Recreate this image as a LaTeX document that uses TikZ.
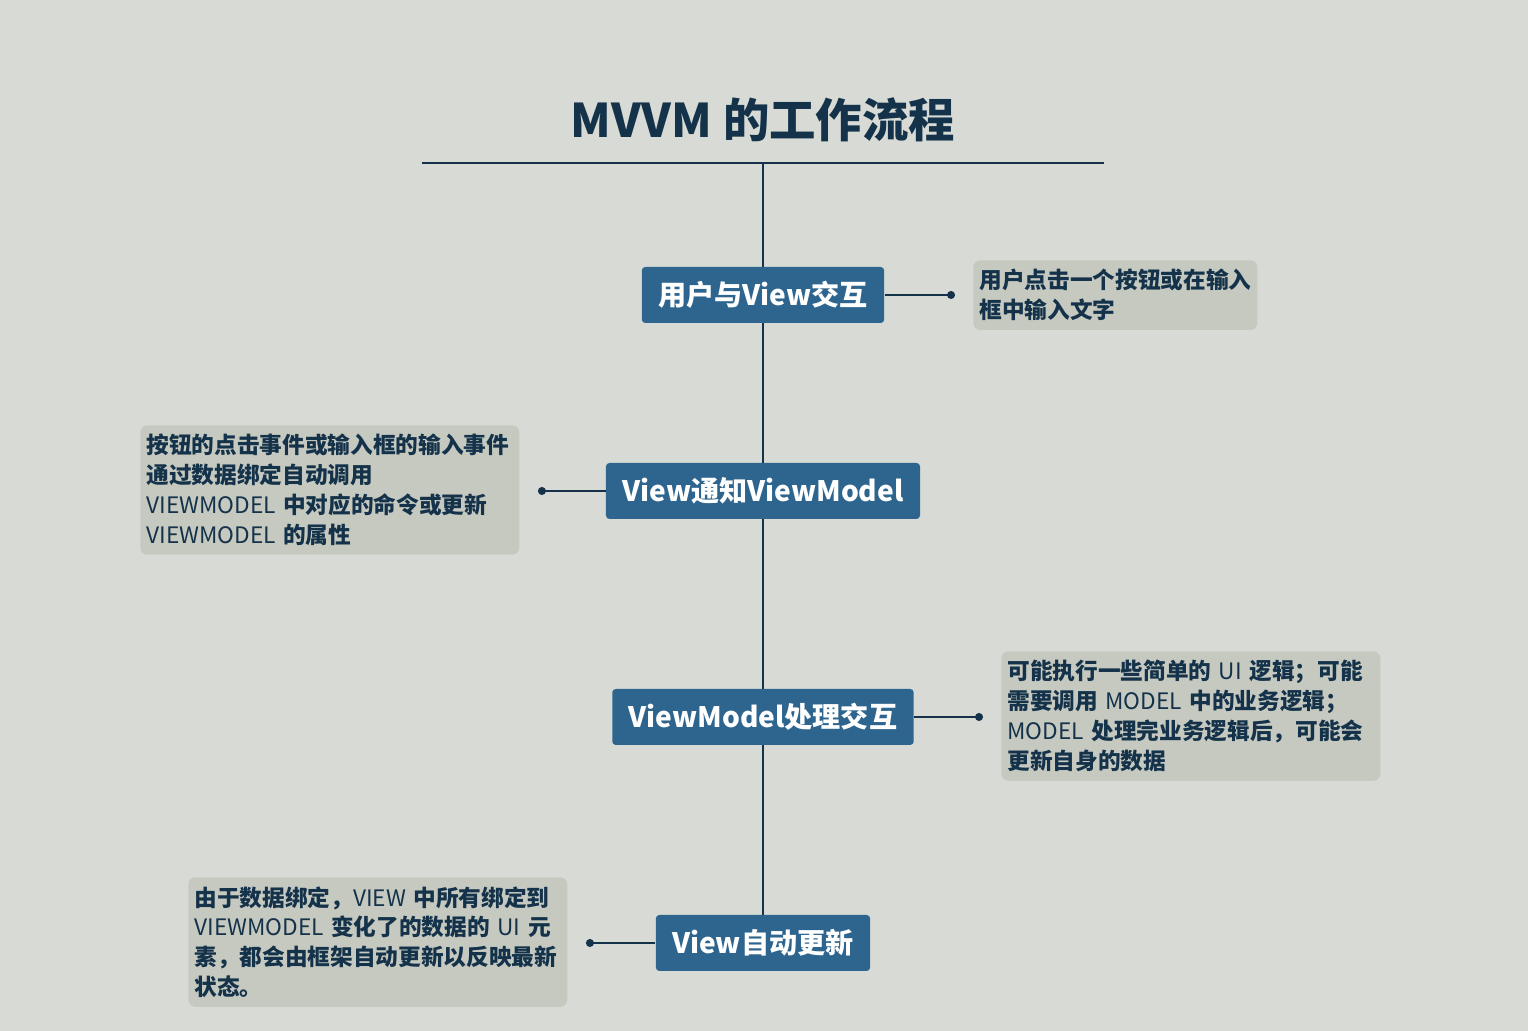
\documentclass[tikz,border=0pt]{standalone}
\usepackage{fontspec}
\setmainfont{Noto Sans CJK SC}
\usetikzlibrary{arrows.meta}
\definecolor{paper}{HTML}{D8DBD5}
\definecolor{ink}{HTML}{14324A}
\definecolor{stagefill}{HTML}{2E658F}
\definecolor{notefill}{HTML}{C6C9C0}
\newcommand{\lat}[1]{{\mdseries #1}}

\begin{document}
\begin{tikzpicture}[
  stage/.style={rectangle, rounded corners=2pt, fill=stagefill, text=white,
                font=\fontsize{16}{20}\selectfont\bfseries,
                minimum height=1.12cm, inner xsep=0.33cm, inner ysep=0pt},
  note/.style={rectangle, rounded corners=4pt, fill=notefill, text=ink,
               font=\fontsize{12.9}{17}\selectfont\bfseries, align=left,
               inner xsep=0.12cm, inner ysep=0.18cm, anchor=north west},
  wire/.style={line width=1.1pt, draw=ink},
  leader/.style={wire, -{Circle[length=4.5pt]}},
  title/.style={font=\fontsize{26.4}{30}\selectfont\bfseries, text=ink},
]

\fill[paper] (-15.26,0) rectangle (15.30,20.62);

\node[title] (head) at (0, 18.22) {MVVM 的工作流程};
\coordinate (rl) at (-6.82, 17.36);
\coordinate (rr) at (6.82, 17.36);
\coordinate (top) at (0, 17.36);
\draw[wire] (rl) -- (rr);

\node[stage] (s1) at (0, 14.72) {用户与View交互};
\node[stage] (s2) at (0, 10.80) {View通知ViewModel};
\node[stage] (s3) at (0, 6.28) {ViewModel处理交互};
\node[stage] (s4) at (0, 1.76) {View自动更新};

\draw[wire] (top) -- (s1) -- (s2) -- (s3) -- (s4);

\node[note, text width=5.44cm] (n1) at (4.20, 15.42) {
  用户点击一个按钮或在输入\\
  框中输入文字};
\node[note, text width=7.34cm] (n2) at (-12.46, 12.12) {
  按钮的点击事件或输入框的输入事件\\
  通过数据绑定自动调用\\
  \lat{VIEWMODEL} 中对应的命令或更新\\
  \lat{VIEWMODEL} 的属性};
\node[note, text width=7.34cm] (n3) at (4.76, 7.60) {
  可能执行一些简单的 \lat{UI} 逻辑；可能\\
  需要调用 \lat{MODEL} 中的业务逻辑；\\
  \lat{MODEL} 处理完业务逻辑后，可能会\\
  更新自身的数据};
\node[note, text width=7.34cm] (n4) at (-11.50, 3.08) {
  由于数据绑定，\lat{VIEW} 中所有绑定到\\
  \lat{VIEWMODEL} 变化了的数据的 \lat{UI} 元\\
  素，都会由框架自动更新以反映最新\\
  状态。};

\coordinate (d1) at (3.84, 14.72);
\coordinate (d2) at (-4.50, 10.80);
\coordinate (d3) at (4.40, 6.28);
\coordinate (d4) at (-3.54, 1.76);
\draw[leader] (s1.east) -- (d1);
\draw[leader] (s2.west) -- (d2);
\draw[leader] (s3.east) -- (d3);
\draw[leader] (s4.west) -- (d4);

\end{tikzpicture}
\end{document}
